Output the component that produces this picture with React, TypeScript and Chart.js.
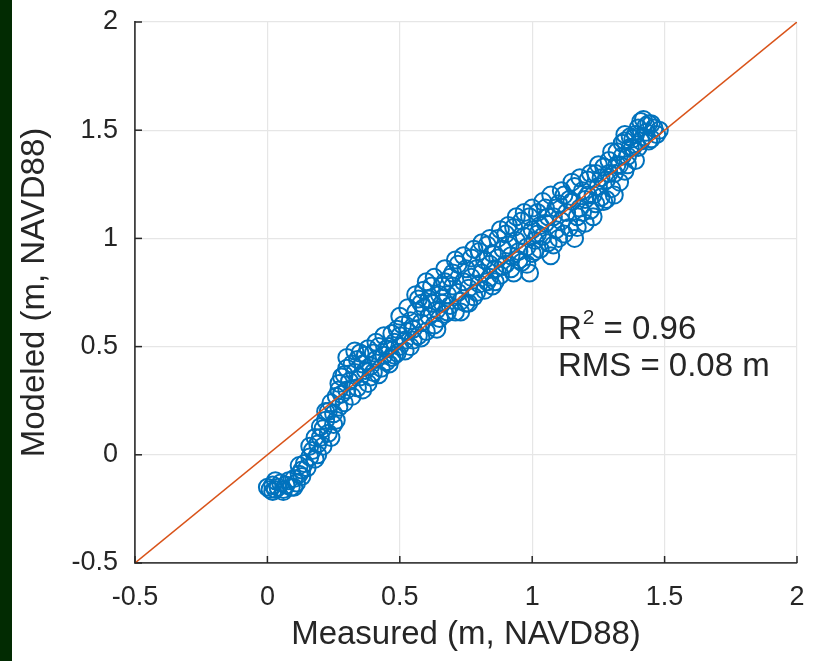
import React, { useEffect, useRef } from "react";
import { Chart, registerables } from "chart.js";

Chart.register(...registerables);

const measured: number[] = [
  0.01, 0.02, 0.03, 0.04, 0.05, 0.06, 0.07, 0.08, 0.09, 0.1, 0.11, 0.12, 0.03,
  0.13, 0.14, 0.15, 0.16, 0.17, 0.18, 0.19, 0.2, 0.21, 0.21, 0.22, 0.23, 0.23, 0.24, 0.25, 0.25, 0.26, 0.27,
  0.27, 0.28, 0.29, 0.3, 0.3, 0.31, 0.32, 0.33, 0.34, 0.34, 0.35, 0.36, 0.37, 0.37, 0.38, 0.39, 0.4, 0.4, 0.41, 0.42, 0.43, 0.44, 0.45, 0.46, 0.47,
  0.48, 0.49, 0.5, 0.5, 0.51, 0.52, 0.53, 0.54, 0.54, 0.55, 0.56, 0.57, 0.57, 0.58, 0.59, 0.59, 0.6, 0.61, 0.62, 0.62, 0.63, 0.64, 0.65, 0.65,
  0.66, 0.67, 0.67, 0.68, 0.69, 0.7, 0.7, 0.71, 0.72, 0.72, 0.73, 0.74, 0.75, 0.75, 0.76, 0.77, 0.77, 0.78, 0.79, 0.8, 0.8, 0.81, 0.82, 0.82, 0.83, 0.84, 0.84, 0.85, 0.85,
  0.86, 0.87, 0.87, 0.88, 0.89, 0.9, 0.9, 0.91, 0.92, 0.93, 0.93, 0.94, 0.95, 0.96, 0.96, 0.97, 0.98, 0.99, 0.99, 1.0, 1.0, 1.01, 1.02, 1.03, 1.03, 1.04, 1.05, 1.05,
  1.06, 1.07, 1.08, 1.09, 1.1, 1.1, 1.11, 1.12, 1.13, 1.14, 1.15, 1.16, 1.16, 1.17, 1.18, 1.19, 1.2, 1.2, 1.21, 1.22, 1.23, 1.24, 1.24, 1.25,
  1.26, 1.27, 1.28, 1.28, 1.29, 1.3, 1.31, 1.32, 1.33, 1.33, 1.34, 1.35, 1.36, 1.37, 1.38, 1.39, 1.4, 1.41, 1.42, 1.43, 1.44, 1.45, 1.46, 1.48, 1.47, 1.38, 1.35,
  0.0, 0.02, 0.06, 0.1, 0.13, 0.12,
  0.16, 0.18, 0.19, 0.2, 0.22, 0.24, 0.26, 0.27, 0.28, 0.29,
  0.3, 0.32, 0.33, 0.35, 0.36, 0.38, 0.39, 0.41, 0.42, 0.44, 0.45, 0.46, 0.47, 0.48, 0.49,
  0.5, 0.52, 0.53, 0.55, 0.56, 0.58, 0.58, 0.6, 0.61, 0.63, 0.64, 0.66, 0.67, 0.68, 0.69, 0.71, 0.73, 0.74, 0.76, 0.78,
  0.79, 0.81, 0.83, 0.84, 0.86, 0.88, 0.89, 0.91, 0.92, 0.94, 0.95, 0.97, 0.98, 1.0, 1.01, 1.02, 1.04, 1.06, 1.07, 1.08,
  1.09, 1.11, 1.12, 1.14, 1.15, 1.17, 1.18, 1.19, 1.21, 1.22, 1.23, 1.25, 1.26, 1.27, 1.29, 1.3, 1.31, 1.32, 1.34, 1.35,
  1.36, 1.37, 1.39, 1.4, 1.41, 1.42, 1.43, 1.45, 1.44,
];

const modeled: number[] = [
  -0.16, -0.14, -0.16, -0.15, -0.13, -0.16, -0.14, -0.12, -0.15, -0.11, -0.13, -0.09, -0.12,
  -0.07, -0.04, -0.06, -0.01, 0.02, -0.02, 0.05, 0.08, 0.04, 0.12, 0.16, 0.1, 0.2, 0.24, 0.14, 0.19, 0.27, 0.22,
  0.33, 0.28, 0.37, 0.3, 0.4, 0.34, 0.27, 0.38, 0.44, 0.31, 0.36, 0.42, 0.39, 0.46, 0.33, 0.41, 0.47, 0.38, 0.44, 0.5, 0.4, 0.46, 0.43, 0.5, 0.45,
  0.52, 0.47, 0.55, 0.5, 0.6, 0.53, 0.57, 0.62, 0.5, 0.58, 0.66, 0.55, 0.72, 0.61, 0.76, 0.68, 0.57, 0.64, 0.7, 0.78, 0.6, 0.67, 0.74, 0.63,
  0.7, 0.8, 0.65, 0.74, 0.69, 0.78, 0.84, 0.66, 0.75, 0.88, 0.71, 0.8, 0.86, 0.7, 0.77, 0.91, 0.82, 0.73, 0.86, 0.79, 0.94, 0.84, 0.9, 0.76, 0.97, 0.82, 0.88, 0.93, 0.78,
  0.86, 1.0, 0.91, 0.83, 0.95, 1.02, 0.88, 0.97, 0.92, 1.05, 0.84, 0.99, 0.94, 1.08, 0.89, 1.01, 0.96, 0.84, 1.1, 1.04, 0.93, 0.99, 1.12, 1.06, 0.95, 1.01, 1.14, 1.07,
  0.98, 0.92, 1.1, 1.04, 1.16, 1.0, 1.08, 1.2, 1.12, 1.05, 1.17, 1.0, 1.24, 1.1, 1.14, 1.22, 1.07, 1.18, 1.27, 1.13, 1.2, 1.3, 1.16, 1.24,
  1.19, 1.33, 1.18, 1.27, 1.36, 1.23, 1.3, 1.4, 1.26, 1.34, 1.44, 1.31, 1.38, 1.47, 1.42, 1.36, 1.51, 1.45, 1.55, 1.49, 1.53, 1.46, 1.51, 1.5, 1.48, 1.46, 1.45,
  -0.15, -0.17, -0.17, -0.15, -0.1, -0.05,
  0.04, 0.08, 0.0, 0.13, 0.2, 0.08, 0.16, 0.3, 0.36, 0.24,
  0.45, 0.42, 0.48, 0.47, 0.3, 0.49, 0.36, 0.52, 0.37, 0.55, 0.49, 0.42, 0.56, 0.46, 0.58,
  0.64, 0.48, 0.68, 0.53, 0.74, 0.7, 0.54, 0.8, 0.72, 0.82, 0.58, 0.78, 0.86, 0.66, 0.82, 0.9, 0.66, 0.92, 0.7, 0.95,
  0.75, 0.98, 0.8, 1.0, 0.8, 1.04, 0.87, 1.06, 0.86, 1.1, 0.9, 1.12, 0.88, 1.14, 0.94, 1.02, 1.17, 1.1, 1.2, 0.97,
  1.14, 1.22, 1.02, 1.18, 1.26, 1.05, 1.28, 1.12, 1.2, 1.3, 1.1, 1.34, 1.28, 1.17, 1.3, 1.4, 1.2, 1.34, 1.38, 1.48,
  1.34, 1.42, 1.48, 1.42, 1.54, 1.47, 1.52, 1.53, 1.45,
];

const oneToOne: number[] = [-0.5, 2];
const tickValues: number[] = [-0.5, 0, 0.5, 1, 1.5, 2];
const xTitle = "Measured (m, NAVD88)";
const yTitle = "Modeled (m, NAVD88)";
const r2Text = "0.96";
const rmsText = "RMS = 0.08 m";

const FONT = "'Liberation Sans', Arial, Helvetica, sans-serif";

export default function App() {
  const ref = useRef<HTMLCanvasElement | null>(null);

  useEffect(() => {
    const canvas = ref.current;
    if (!canvas) return;

    const annot = {
      id: "annot",
      afterDatasetsDraw(chart: any) {
        const { ctx, scales } = chart;
        const xs = scales.x;
        const ys = scales.y;
        ctx.save();
        ctx.strokeStyle = "#262626";
        ctx.lineWidth = 1.5;
        const left = chart.chartArea.left;
        const bottom = chart.chartArea.bottom;
        tickValues.forEach((v) => {
          const px = xs.getPixelForValue(v);
          ctx.beginPath();
          ctx.moveTo(px, bottom);
          ctx.lineTo(px, bottom - 7);
          ctx.stroke();
          const py = ys.getPixelForValue(v);
          ctx.beginPath();
          ctx.moveTo(left, py);
          ctx.lineTo(left + 7, py);
          ctx.stroke();
        });
        ctx.fillStyle = "#262626";
        ctx.textBaseline = "middle";
        ctx.textAlign = "left";
        const tx = xs.getPixelForValue(1.097);
        const y1 = ys.getPixelForValue(0.577);
        const y2 = ys.getPixelForValue(0.407);
        ctx.font = `33px ${FONT}`;
        ctx.fillText("R", tx, y1);
        const rw = ctx.measureText("R").width;
        ctx.font = `21px ${FONT}`;
        ctx.fillText("2", tx + rw + 1, y1 - 12);
        const sw = ctx.measureText("2").width;
        ctx.font = `33px ${FONT}`;
        ctx.fillText(" = " + r2Text, tx + rw + 1 + sw, y1);
        ctx.fillText(rmsText, tx, y2);
        ctx.restore();
      },
    };

    const chart = new Chart(canvas, {
      type: "scatter",
      data: {
        datasets: [
          {
            type: "scatter",
            data: measured.map((m, i) => ({ x: m, y: modeled[i] })),
            pointStyle: "circle",
            pointRadius: 8.5,
            borderColor: "#0072BD",
            backgroundColor: "rgba(0,0,0,0)",
            borderWidth: 2,
            order: 2,
          },
          {
            type: "line",
            data: oneToOne.map((v) => ({ x: v, y: v })),
            borderColor: "#D95319",
            borderWidth: 1.5,
            pointRadius: 0,
            fill: false,
            order: 1,
          } as any,
        ],
      },
      options: {
        responsive: false,
        animation: false,
        events: [],
        layout: { padding: { left: 12, top: 22, right: 20, bottom: 0 } },
        plugins: { legend: { display: false }, tooltip: { enabled: false } },
        scales: {
          x: {
            type: "linear",
            min: -0.5,
            max: 2,
            afterBuildTicks: (s: any) => {
              s.ticks = tickValues.map((v) => ({ value: v }));
            },
            afterFit: (s: any) => {
              s.height = 98;
              s.paddingLeft = 0;
              s.paddingRight = 0;
            },
            ticks: {
              color: "#262626",
              font: { family: FONT, size: 27 },
              padding: 18,
              callback: (v: any) => String(v),
            },
            grid: { color: "#e6e6e6", lineWidth: 1.2, drawTicks: false },
            border: { display: true, color: "#404040", width: 1.8 },
            title: {
              display: true,
              text: xTitle,
              color: "#262626",
              font: { family: FONT, size: 33 },
              padding: { top: 0, bottom: 6 },
            },
          },
          y: {
            type: "linear",
            min: -0.5,
            max: 2,
            afterBuildTicks: (s: any) => {
              s.ticks = tickValues.map((v) => ({ value: v }));
            },
            afterFit: (s: any) => {
              s.width = 123;
              s.paddingTop = 0;
              s.paddingBottom = 0;
            },
            ticks: {
              color: "#262626",
              font: { family: FONT, size: 27 },
              padding: 17,
              callback: (v: any) => String(v),
            },
            grid: { color: "#e6e6e6", lineWidth: 1.2, drawTicks: false },
            border: { display: true, color: "#404040", width: 1.8 },
            title: {
              display: true,
              text: yTitle,
              color: "#262626",
              font: { family: FONT, size: 33 },
              padding: { top: 3, bottom: 0 },
            },
          },
        },
      },
      plugins: [annot],
    } as any);

    return () => chart.destroy();
  }, []);

  return (
    <div style={{ position: "fixed", left: 0, top: 0, width: 817, height: 661, background: "#ffffff" }}>
      <div style={{ position: "absolute", left: 0, top: 0, width: 12, height: 661, background: "#022b02" }} />
      <canvas ref={ref} width={817} height={661} style={{ position: "absolute", left: 0, top: 0 }} />
    </div>
  );
}
